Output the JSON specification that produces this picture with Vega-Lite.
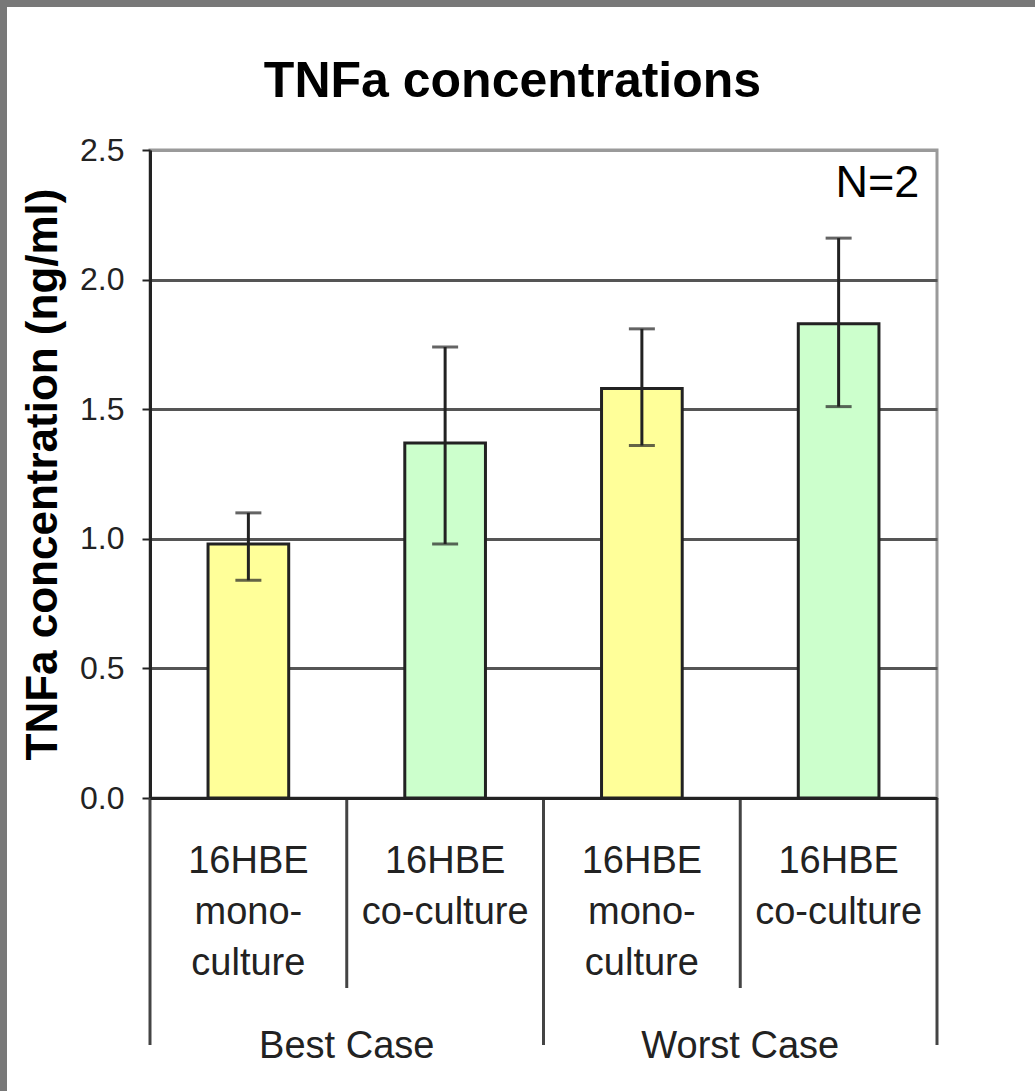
{
  "$schema": "https://vega.github.io/schema/vega-lite/v6.json",
  "width": 787,
  "height": 648,
  "autosize": {"type": "none"},
  "padding": {"left": 150, "top": 150, "right": 98, "bottom": 293},
  "background": "white",
  "title": {
    "text": "TNFa concentrations",
    "font": "Liberation Sans",
    "fontSize": 50,
    "fontWeight": "bold",
    "color": "#000000",
    "anchor": "middle",
    "frame": "group",
    "dx": -31,
    "offset": -111
  },
  "config": {
    "view": {"stroke": "#9a9a9a", "strokeWidth": 3},
    "text": {"font": "Liberation Sans"}
  },
  "datasets": {
    "bars": [
      {"cat": "B-mono", "label": ["16HBE", "mono-", "culture"], "group": "Best Case", "type": "mono", "value": 0.98, "lo": 0.84, "hi": 1.1},
      {"cat": "B-co", "label": ["16HBE", "co-culture"], "group": "Best Case", "type": "co", "value": 1.37, "lo": 0.98, "hi": 1.74},
      {"cat": "W-mono", "label": ["16HBE", "mono-", "culture"], "group": "Worst Case", "type": "mono", "value": 1.58, "lo": 1.36, "hi": 1.81},
      {"cat": "W-co", "label": ["16HBE", "co-culture"], "group": "Worst Case", "type": "co", "value": 1.83, "lo": 1.51, "hi": 2.16}
    ],
    "notes": [{"note": "N=2"}]
  },
  "data": {"name": "bars"},
  "resolve": {"scale": {"x": "independent"}},
  "layer": [
    {
      "layer": [
        {
          "mark": {"type": "bar", "width": {"band": 0.41}, "stroke": "#222222", "strokeWidth": 3},
          "encoding": {
            "x": {
              "field": "cat", "type": "nominal", "sort": null,
              "scale": {"domain": ["B-mono", "B-co", "W-mono", "W-co"], "paddingInner": 0, "paddingOuter": 0},
              "axis": {"labels": false, "ticks": false, "title": null, "domainColor": "#222222", "domainWidth": 3, "grid": false, "zindex": 1}
            },
            "y": {
              "field": "value", "type": "quantitative",
              "scale": {"domain": [0, 2.5], "nice": false, "zero": false},
              "axis": {
                "values": [0, 0.5, 1, 1.5, 2, 2.5],
                "format": ".1f",
                "title": "TNFa concentration (ng/ml)",
                "titleFont": "Liberation Sans",
                "titleFontSize": 44,
                "titleFontWeight": "bold",
                "titleColor": "#000000",
                "titlePadding": 14,
                "labelFont": "Liberation Sans",
                "labelFontSize": 32,
                "labelColor": "#222222",
                "labelPadding": 18,
                "labelFlush": false,
                "tickSize": 8,
                "tickColor": "#222222",
                "tickWidth": 2,
                "domainColor": "#222222",
                "domainWidth": 3,
                "grid": true,
                "gridColor": {"condition": {"test": "datum.value == 2.5 || datum.value == 0", "value": "#9a9a9a"}, "value": "#555555"},
                "gridWidth": 3
              }
            },
            "color": {
              "field": "type", "type": "nominal",
              "scale": {"domain": ["mono", "co"], "range": ["#FFFF99", "#CCFFCC"]},
              "legend": null
            }
          }
        },
        {
          "mark": {"type": "rule", "color": "#222222", "strokeWidth": 3},
          "encoding": {
            "x": {"field": "cat", "type": "nominal", "sort": null},
            "y": {"field": "lo", "type": "quantitative"},
            "y2": {"field": "hi"}
          }
        },
        {
          "mark": {"type": "tick", "color": "#222222", "thickness": 3, "size": 26},
          "encoding": {
            "x": {"field": "cat", "type": "nominal", "sort": null},
            "y": {"field": "lo", "type": "quantitative"}
          }
        },
        {
          "mark": {"type": "tick", "color": "#222222", "thickness": 3, "size": 26},
          "encoding": {
            "x": {"field": "cat", "type": "nominal", "sort": null},
            "y": {"field": "hi", "type": "quantitative"}
          }
        },
        {
          "transform": [{"filter": "datum.type == 'mono'"}],
          "mark": {"type": "rule", "color": "#444444", "strokeWidth": 3},
          "encoding": {
            "x": {"field": "cat", "type": "nominal", "sort": null, "bandPosition": 0},
            "y": {"datum": 0, "type": "quantitative"},
            "y2": {"datum": -0.953}
          }
        },
        {
          "transform": [{"filter": "datum.type == 'co'"}],
          "mark": {"type": "rule", "color": "#444444", "strokeWidth": 3},
          "encoding": {
            "x": {"field": "cat", "type": "nominal", "sort": null, "bandPosition": 0},
            "y": {"datum": 0, "type": "quantitative"},
            "y2": {"datum": -0.733}
          }
        },
        {
          "transform": [{"filter": "datum.cat == 'W-co'"}],
          "mark": {"type": "rule", "color": "#444444", "strokeWidth": 3},
          "encoding": {
            "x": {"field": "cat", "type": "nominal", "sort": null, "bandPosition": 1},
            "y": {"datum": 0, "type": "quantitative"},
            "y2": {"datum": -0.953}
          }
        },
        {
          "mark": {"type": "text", "align": "center", "baseline": "alphabetic", "fontSize": 38, "lineHeight": 51, "color": "#222222"},
          "encoding": {
            "x": {"field": "cat", "type": "nominal", "sort": null},
            "y": {"datum": -0.289, "type": "quantitative"},
            "text": {"field": "label"}
          }
        },
        {
          "transform": [{"filter": "datum.type == 'co'"}],
          "mark": {"type": "text", "align": "center", "baseline": "alphabetic", "fontSize": 38, "color": "#222222"},
          "encoding": {
            "x": {"field": "cat", "type": "nominal", "sort": null, "bandPosition": 0},
            "y": {"datum": -1.003, "type": "quantitative"},
            "text": {"field": "group"}
          }
        }
      ]
    },
    {
      "data": {"name": "notes"},
      "layer": [
        {
          "mark": {"type": "text", "align": "right", "baseline": "alphabetic", "fontSize": 45, "color": "#000000"},
          "encoding": {
            "x": {"datum": 3.91, "type": "quantitative", "scale": {"domain": [0, 4], "nice": false, "zero": false}, "axis": null},
            "y": {"datum": 2.319, "type": "quantitative"},
            "text": {"field": "note"}
          }
        },
        {
          "mark": {"type": "rule", "color": "#787878", "strokeWidth": 7},
          "encoding": {
            "x": {"datum": -0.7446, "type": "quantitative", "scale": {"domain": [0, 4], "nice": false, "zero": false}, "axis": null},
            "y": {"datum": 3.08, "type": "quantitative"},
            "y2": {"datum": -1.25}
          }
        },
        {
          "mark": {"type": "rule", "color": "#787878", "strokeWidth": 7},
          "encoding": {
            "x": {"datum": -0.765, "type": "quantitative", "scale": {"domain": [0, 4], "nice": false, "zero": false}, "axis": null},
            "x2": {"datum": 4.6},
            "y": {"datum": 3.065, "type": "quantitative"}
          }
        }
      ]
    }
  ]
}
